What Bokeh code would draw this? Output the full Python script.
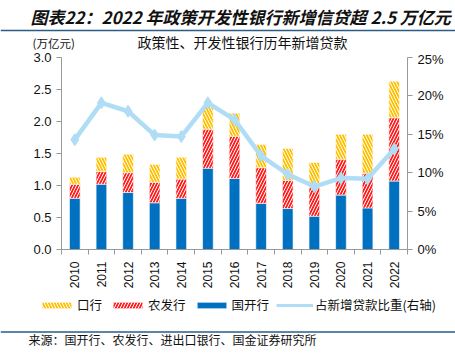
from bokeh.plotting import figure
from bokeh.layouts import column
from bokeh.models import (Range1d, LinearAxis, FixedTicker, Label, BoxAnnotation,
                          Legend, LegendItem, NumeralTickFormatter, ColumnDataSource)
from bokeh.embed import file_html
from bokeh.resources import INLINE

years = ["2010", "2011", "2012", "2013", "2014", "2015", "2016",
         "2017", "2018", "2019", "2020", "2021", "2022"]
cdb = [0.80, 1.02, 0.89, 0.73, 0.80, 1.27, 1.11, 0.72, 0.64, 0.52, 0.85, 0.65, 1.07]
adbc = [0.22, 0.20, 0.31, 0.32, 0.30, 0.61, 0.66, 0.56, 0.44, 0.45, 0.56, 0.54, 0.99]
eximb = [0.11, 0.22, 0.29, 0.28, 0.34, 0.37, 0.36, 0.36, 0.50, 0.39, 0.39, 0.61, 0.57]
share = [0.143, 0.191, 0.180, 0.149, 0.147, 0.191, 0.169, 0.122, 0.098, 0.082, 0.093, 0.092, 0.131]

left_ticks = [0.0, 0.5, 1.0, 1.5, 2.0, 2.5, 3.0]
right_ticks = [0.0, 0.05, 0.10, 0.15, 0.20, 0.25]

title_text = "图表22：2022 年政策开发性银行新增信贷超 2.5 万亿元"
subtitle_text = "政策性、开发性银行历年新增贷款"
unit_text = "(万亿元)"
source_text = "来源：国开行、农发行、进出口银行、国金证券研究所"
legend_names = ["口行", "农发行", "国开行", "占新增贷款比重(右轴)"]

CJK = "Noto Sans CJK SC"
NUM = "Liberation Sans"
W = 455
rule_color = "#2A5D86"

BLUE = dict(fill_color="#0070C0", line_color="white", line_width=0.6)
RED = dict(fill_color="#FF1F1F", line_color="white", line_width=0.6,
           hatch_pattern="/", hatch_color="white", hatch_weight=1.0, hatch_scale=6)
YEL = dict(fill_color="#FFC000", line_color="white", line_width=0.6,
           hatch_pattern="\\", hatch_color="white", hatch_weight=1.0, hatch_scale=6)
LINE_COLOR = "#B0DDF6"


def blank_fig(h):
    f = figure(width=W, height=h, output_backend="svg", toolbar_location=None,
               x_range=Range1d(0, W), y_range=Range1d(0, h),
               x_axis_type=None, y_axis_type=None,
               min_border=0, min_border_left=0, min_border_right=0,
               min_border_top=0, min_border_bottom=0, frame_align=False)
    f.outline_line_color = None
    f.grid.grid_line_color = None
    return f


def hlabel(fig, hh, text, px, py, size, align="left", style="normal"):
    fig.add_layout(Label(x=px, y=hh - py, text=text, text_font=CJK, text_font_size=size,
                         text_align=align, text_baseline="middle",
                         text_font_style=style, text_color="#111111"))


# ---------- header (page y 0..51) ----------
HH = 51
hdr = blank_fig(HH)
hlabel(hdr, HH, title_text, 30, 16, "17px", style="bold italic")
hlabel(hdr, HH, subtitle_text, 242, 41, "14px", align="center")
hlabel(hdr, HH, unit_text, 32, 42, "11.5px")
hdr.add_layout(BoxAnnotation(left=0, right=W, bottom=HH - 30.8, top=HH - 29.2,
                             fill_color=rule_color, fill_alpha=1, line_color=None))

# ---------- main chart (page y 51..292) ----------
xs = list(range(len(years)))
red_top = [a + b for a, b in zip(cdb, adbc)]
yel_top = [a + b for a, b in zip(red_top, eximb)]
src = ColumnDataSource(dict(x=xs, cdb=cdb, red_top=red_top, yel_top=yel_top, share=share))

MH = 241
p = figure(width=W, height=MH, output_backend="svg", toolbar_location=None,
           x_range=Range1d(-0.5, len(years) - 0.5), y_range=Range1d(0, 3.0),
           min_border_left=61, min_border_right=48, min_border_top=6, min_border_bottom=43,
           frame_align=False)
p.outline_line_color = None
p.grid.grid_line_color = None
p.extra_y_ranges = {"pct": Range1d(0, 0.25)}

p.vbar(x="x", bottom=0, top="cdb", width=0.4, source=src, **BLUE)
p.vbar(x="x", bottom="cdb", top="red_top", width=0.4, source=src, **RED)
p.vbar(x="x", bottom="red_top", top="yel_top", width=0.4, source=src, **YEL)
p.line(x="x", y="share", source=src, y_range_name="pct", line_color=LINE_COLOR, line_width=4.5)
p.scatter(x="x", y="share", source=src, y_range_name="pct", marker="diamond", size=12,
          fill_color=LINE_COLOR, line_color=LINE_COLOR)

xa = p.xaxis[0]
xa.ticker = FixedTicker(ticks=xs, minor_ticks=[i - 0.5 for i in range(len(years) + 1)])
xa.major_label_overrides = {i: y for i, y in enumerate(years)}
xa.major_label_orientation = 1.5708
xa.major_tick_line_color = None
xa.minor_tick_in = 0
xa.minor_tick_out = 5
xa.minor_tick_line_color = "#999999"
xa.axis_line_color = "#999999"
xa.major_label_text_font = NUM
xa.major_label_text_font_size = "12px"
xa.major_label_text_color = "#111111"
xa.major_label_standoff = 6

ya = p.yaxis[0]
ya.ticker = FixedTicker(ticks=left_ticks)
ya.formatter = NumeralTickFormatter(format="0.0")
ra = LinearAxis(y_range_name="pct", ticker=FixedTicker(ticks=right_ticks),
                formatter=NumeralTickFormatter(format="0%"))
p.add_layout(ra, "right")
for ax in (ya, ra):
    ax.axis_line_color = "#999999"
    ax.major_tick_line_color = "#999999"
    ax.major_tick_in = 0
    ax.major_tick_out = 5
    ax.minor_tick_line_color = None
    ax.major_label_text_font = NUM
    ax.major_label_text_font_size = "13px"
    ax.major_label_text_color = "#111111"
    ax.major_label_standoff = 5

# ---------- footer (page y 292..355): legend, rule, source ----------
FH = 63
ftr = blank_fig(FH)
# hidden key renderers (same data, not painted) so the legend can draw its glyphs here
k_yel = ftr.vbar(x="x", bottom="cdb", top="red_top", width=0.4, source=src, visible=False, **YEL)
k_red = ftr.vbar(x="x", bottom="cdb", top="red_top", width=0.4, source=src, visible=False, **RED)
k_blue = ftr.vbar(x="x", top="cdb", width=0.4, source=src, visible=False, **BLUE)
k_line = ftr.line(x="x", y="share", source=src, visible=False,
                  line_color=LINE_COLOR, line_width=3)
k_mark = ftr.scatter(x="x", y="share", source=src, visible=False, marker="diamond", size=7,
                     fill_color=LINE_COLOR, line_color=LINE_COLOR)
legend = Legend(items=[LegendItem(label=legend_names[0], renderers=[k_yel]),
                       LegendItem(label=legend_names[1], renderers=[k_red]),
                       LegendItem(label=legend_names[2], renderers=[k_blue]),
                       LegendItem(label=legend_names[3], renderers=[k_line, k_mark])],
                orientation="horizontal", location=(38, FH - 22),
                padding=0, margin=0, spacing=7, label_standoff=2,
                glyph_width=37, glyph_height=8, label_height=14,
                label_text_font=CJK, label_text_font_size="12.5px", label_text_color="#111111",
                inactive_fill_alpha=0,
                background_fill_alpha=0, border_line_color=None)
ftr.add_layout(legend)
ftr.add_layout(BoxAnnotation(left=0, right=W, bottom=FH - 40.3, top=FH - 38.7,
                             fill_color=rule_color, fill_alpha=1, line_color=None))
hlabel(ftr, FH, source_text, 28, 47, "12px")

page = column(hdr, p, ftr, spacing=0)
open("out.html", "w").write(file_html(page, INLINE))
